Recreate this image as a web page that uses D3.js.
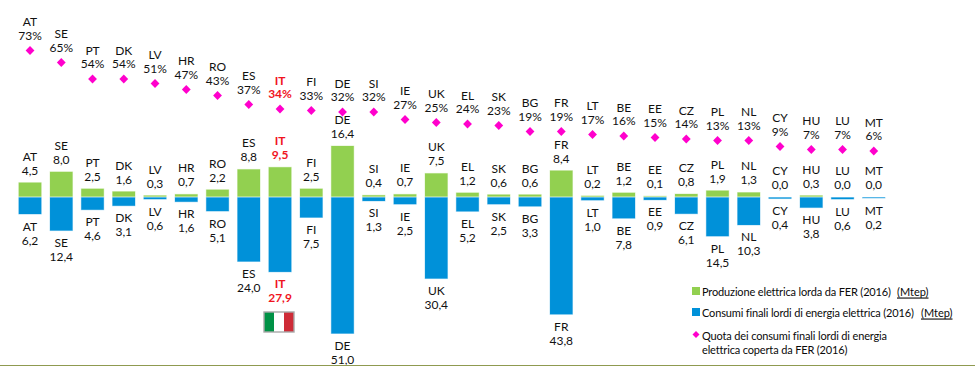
<!DOCTYPE html>
<html>
<head>
<meta charset="utf-8">
<script src="https://cdn.jsdelivr.net/npm/d3@7"></script>
<style>
  html, body { margin:0; padding:0; background:#fff; }
  svg { display:block; }
  text { font-family: Lato, "Open Sans", sans-serif; font-size:12px; fill:#111; }
  .red { fill:#f0141e; font-weight:700; }
  .leg { font-size:11px; fill:#0a0a0a; letter-spacing:-0.15px; }
  .unit { letter-spacing:0; }
</style>
</head>
<body>
<div id="chart"></div>
<script>
const paesi = ["AT","SE","PT","DK","LV","HR","RO","ES","IT","FI","DE","SI","IE","UK","EL","SK","BG","FR","LT","BE","EE","CZ","PL","NL","CY","HU","LU","MT"];
const quota = [73,65,54,54,51,47,43,37,34,33,32,32,27,25,24,23,19,19,17,16,15,14,13,13,9,7,7,6];
const produzione = [4.5,8.0,2.5,1.6,0.3,0.7,2.2,8.8,9.5,2.5,16.4,0.4,0.7,7.5,1.2,0.6,0.6,8.4,0.2,1.2,0.1,0.8,1.9,1.3,0.0,0.3,0.0,0.0];
const consumi = [6.2,12.4,4.6,3.1,0.6,1.6,5.1,24.0,27.9,7.5,51.0,1.3,2.5,30.4,5.2,2.5,3.3,43.8,1.0,7.8,0.9,6.1,14.5,10.3,0.4,3.8,0.6,0.2];

const W = 975, H = 366;
const VERDE = "#92d050", BLU = "#0091d9", ROSA = "#ff00cc";
const fmt = d3.formatLocale({decimal:",", thousands:".", grouping:[3], currency:["","€"]}).format(".1f");

const svg = d3.select("#chart").append("svg").attr("width", W).attr("height", H);

// banda di 31.25px per paese, centri da x=30 a x=874
const x = d3.scaleBand().domain(paesi).range([14.4, 889.4]).paddingInner(0.28).paddingOuter(0.14);
const cx = p => x(p) + x.bandwidth()/2;

// le due serie non hanno la stessa scala nell'originale
const base = 197;
const yUp = d3.scaleLinear().domain([0,16.4]).range([base-0.5, 146]);
const yDown = d3.scaleLinear().domain([0,51]).range([base+0.5, 333.5]);
const yQuota = d3.scaleLinear().domain([0,100]).range([160, 10]);

const data = paesi.map((p,i) => ({p, q:quota[i], prod:produzione[i], cons:consumi[i]}));
const cls = d => d.p === "IT" ? "red" : null;

// barre, bordo tenue come nell'immagine
svg.selectAll(".prod").data(data).join("rect").attr("class","prod")
  .attr("x", d => x(d.p)).attr("width", x.bandwidth())
  .attr("y", d => yUp(d.prod)).attr("height", d => yUp(0) - yUp(d.prod))
  .attr("fill", VERDE).attr("stroke", VERDE).attr("stroke-opacity", 0.3);
svg.selectAll(".cons").data(data).join("rect").attr("class","cons")
  .attr("x", d => x(d.p)).attr("width", x.bandwidth())
  .attr("y", yDown(0)).attr("height", d => yDown(d.cons) - yDown(0))
  .attr("fill", BLU).attr("stroke", BLU).attr("stroke-opacity", 0.3);

// rombi
svg.selectAll(".rombo").data(data).join("path").attr("class","rombo")
  .attr("d", "M0,-4.4L4.4,0L0,4.4L-4.4,0Z")
  .attr("transform", d => `translate(${cx(d.p)},${yQuota(d.q)})`)
  .attr("fill", ROSA);

// etichette: due righe per ogni serie
function etichetta(getY1, getY2, getVal) {
  const g = svg.append("g").attr("text-anchor","middle").attr("dominant-baseline","central");
  g.selectAll(".cod").data(data).join("text")
    .attr("class", cls).attr("x", d => cx(d.p)).attr("y", getY1).text(d => d.p);
  g.selectAll(".val").data(data).join("text")
    .attr("class", cls).attr("x", d => cx(d.p)).attr("y", getY2).text(getVal);
}
etichetta(d => yQuota(d.q)-29, d => yQuota(d.q)-15.5, d => d.q + "%");
etichetta(d => yUp(d.prod)-26.5, d => yUp(d.prod)-12.5, d => fmt(d.prod));
etichetta(d => yDown(d.cons)+12, d => yDown(d.cons)+26, d => fmt(d.cons));

// bandiera sotto IT
const flag = svg.append("g").attr("transform","translate(264,312)");
flag.selectAll("rect").data(["#009246","#ffffff","#ce2b37"]).join("rect")
  .attr("x",(d,i)=>i*10).attr("width",10).attr("height",20).attr("fill",d=>d);
flag.append("rect").attr("width",30).attr("height",20).attr("fill","none").attr("stroke","#a8a8a8").attr("stroke-width",1.4);

// legenda
const legenda = svg.append("g").attr("dominant-baseline","central");
legenda.append("rect").attr("x",692).attr("y",287).attr("width",8).attr("height",8).attr("fill",VERDE);
legenda.append("rect").attr("x",692).attr("y",308).attr("width",8).attr("height",8).attr("fill",BLU);
legenda.append("path").attr("d","M0,-3.5L3.5,0L0,3.5L-3.5,0Z").attr("transform","translate(696,334.5)").attr("fill",ROSA);
const righe = [
  [702,291,"Produzione elettrica lorda da FER (2016)"],
  [702,312,"Consumi finali lordi di energia elettrica (2016)"],
  [702,335,"Quota dei consumi finali lordi di energia"],
  [702,349,"elettrica coperta da FER (2016)"]
];
legenda.selectAll(".riga").data(righe).join("text").attr("class","leg riga")
  .attr("x",d=>d[0]).attr("y",d=>d[1]).text(d=>d[2]);
legenda.selectAll(".unit").data([[897,291],[921,312]]).join("text").attr("class","leg unit")
  .attr("x",d=>d[0]).attr("y",d=>d[1]).attr("text-decoration","underline").text("(Mtep)");

// riga in fondo
svg.append("line").attr("x1",0).attr("x2",W).attr("y1",365.5).attr("y2",365.5)
  .attr("stroke","#8f9a50").attr("stroke-width",1);
</script>
</body>
</html>
